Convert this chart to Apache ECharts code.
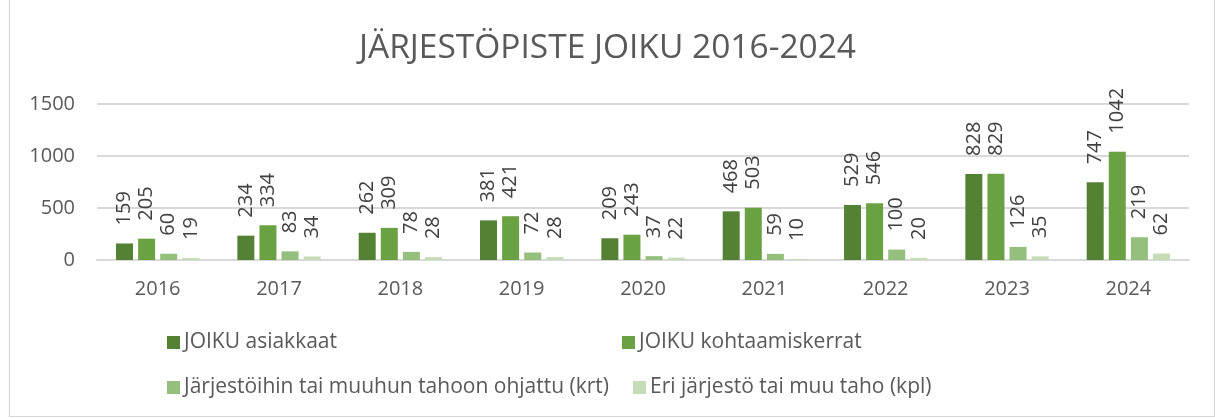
<!DOCTYPE html>
<html>
<head>
<meta charset="utf-8">
<script src="https://cdn.jsdelivr.net/npm/echarts@6/dist/echarts.min.js"></script>
<style>
  html, body { margin: 0; padding: 0; background: #fff; }
  #frame { position: absolute; left: 9px; top: 0; width: 1204px; height: 416px; border: 1px solid #d9d9d9; border-top: none; }
  #main { width: 1215px; height: 418px; }
</style>
</head>
<body>
<div id="frame"></div>
<div id="main"></div>
<script>
const years = ["2016", "2017", "2018", "2019", "2020", "2021", "2022", "2023", "2024"];
const asiakkaat = [159, 234, 262, 381, 209, 468, 529, 828, 747];
const kohtaamiset = [205, 334, 309, 421, 243, 503, 546, 829, 1042];
const ohjattu = [60, 83, 78, 72, 37, 59, 100, 126, 219];
const eriTaho = [19, 34, 28, 28, 22, 10, 20, 35, 62];
const yTicks = [0, 500, 1000, 1500];

const names = [
  "JOIKU asiakkaat",
  "JOIKU kohtaamiskerrat",
  "Järjestöihin tai muuhun tahoon ohjattu (krt)",
  "Eri järjestö tai muu taho (kpl)"
];
const colors = ["#548235", "#6aa142", "#95bf7d", "#c5dcb6"];
const values = [asiakkaat, kohtaamiset, ohjattu, eriTaho];

const font = "'Open Sans', Calibri, sans-serif";
const chart = echarts.init(document.getElementById("main"));

// legend placed as a 2x2 grid like the original
const legendPos = [
  { left: 167, top: 332 },
  { left: 622, top: 332 },
  { left: 167, top: 377 },
  { left: 633, top: 377 }
];

chart.setOption({
  animation: false,
  color: colors,
  title: {
    text: "JÄRJESTÖPISTE JOIKU 2016-2024",
    left: "center",
    top: 26,
    textStyle: { fontFamily: font, fontSize: 33.5, fontWeight: "normal", color: "#595959" }
  },
  legend: names.map((n, i) => ({
    data: [n],
    left: legendPos[i].left,
    top: legendPos[i].top,
    padding: 0,
    itemWidth: 13,
    itemHeight: 13,
    itemGap: 4,
    icon: "rect",
    textStyle: { fontFamily: font, fontSize: 21, color: "#595959", padding: [0, 0, 0, -1] }
  })),
  grid: { left: 97, right: 26, top: 104, bottom: 158, containLabel: false },
  xAxis: {
    type: "category",
    data: years,
    axisLine: { lineStyle: { color: "#d9d9d9", width: 2 } },
    axisTick: { show: false },
    axisLabel: { fontFamily: font, fontSize: 20, color: "#595959", margin: 19 }
  },
  yAxis: {
    type: "value",
    min: yTicks[0],
    max: yTicks[yTicks.length - 1],
    interval: 500,
    axisLine: { show: false },
    axisTick: { show: false },
    splitLine: { lineStyle: { color: "#d9d9d9", width: 2 } },
    axisLabel: { fontFamily: font, fontSize: 20, color: "#595959", margin: 22, formatter: (v) => String(v) }
  },
  series: values.map((v, i) => ({
    name: names[i],
    type: "bar",
    data: v,
    barWidth: 17,
    barGap: "30%",
    itemStyle: { color: colors[i] },
    label: {
      show: true,
      position: "top",
      rotate: 90,
      align: "left",
      verticalAlign: "middle",
      distance: 18,
      fontFamily: font,
      fontSize: 20,
      color: "#404040"
    }
  }))
});
</script>
</body>
</html>
